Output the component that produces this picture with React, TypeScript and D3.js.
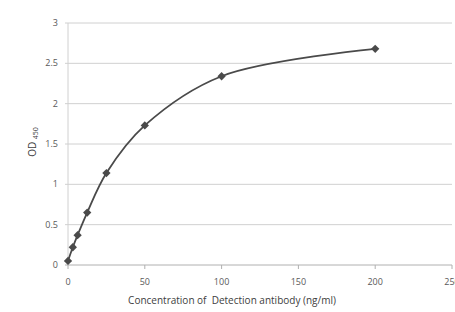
import React, { useEffect, useRef } from 'react';
import * as d3 from 'd3';

const concentrations = [0, 3.125, 6.25, 12.5, 25, 50, 100, 200];
const odValues = [0.05, 0.22, 0.37, 0.65, 1.14, 1.73, 2.34, 2.68];
const xTicks = [0, 50, 100, 150, 200, 250];
const yTicks = [0, 0.5, 1, 1.5, 2, 2.5, 3];

const WIDTH = 455;
const HEIGHT = 312;
const FONT = '"Open Sans", "Liberation Sans", sans-serif';

export default function App() {
  const svgRef = useRef<SVGSVGElement>(null);

  useEffect(() => {
    if (!svgRef.current) return;
    const svg = d3.select(svgRef.current);
    svg.selectAll('*').remove();

    const margin = { top: 23, right: 3, bottom: 47, left: 68 };
    const innerWidth = WIDTH - margin.left - margin.right;
    const innerHeight = HEIGHT - margin.top - margin.bottom;

    svg.append('rect').attr('width', WIDTH).attr('height', HEIGHT).attr('fill', '#fff');

    const g = svg
      .append('g')
      .attr('transform', `translate(${margin.left},${margin.top})`);

    const x = d3.scaleLinear().domain([0, 250]).range([0, innerWidth]);
    const y = d3.scaleLinear().domain([0, 3]).range([innerHeight, 0]);

    // horizontal gridlines
    g.append('g')
      .selectAll('line')
      .data(yTicks.filter((t) => t > 0))
      .join('line')
      .attr('x1', -3)
      .attr('x2', innerWidth)
      .attr('y1', (d) => y(d))
      .attr('y2', (d) => y(d))
      .attr('stroke', '#d0d0d0')
      .attr('stroke-width', 1);

    // y axis line
    g.append('line')
      .attr('x1', 0)
      .attr('x2', 0)
      .attr('y1', 0)
      .attr('y2', innerHeight)
      .attr('stroke', '#d0d0d0');

    // x axis line
    g.append('line')
      .attr('x1', -3)
      .attr('x2', innerWidth)
      .attr('y1', innerHeight)
      .attr('y2', innerHeight)
      .attr('stroke', '#b0b0b0');

    g.append('g')
      .selectAll('line')
      .data(xTicks)
      .join('line')
      .attr('x1', (d) => x(d))
      .attr('x2', (d) => x(d))
      .attr('y1', innerHeight)
      .attr('y2', innerHeight + 4)
      .attr('stroke', '#b0b0b0');

    g.append('g')
      .selectAll('text')
      .data(yTicks)
      .join('text')
      .attr('x', -10)
      .attr('y', (d) => y(d))
      .attr('dy', '0.35em')
      .attr('text-anchor', 'end')
      .attr('fill', '#595959')
      .attr('font-size', '9px')
      .attr('font-family', FONT)
      .text((d) => String(d));

    g.append('g')
      .selectAll('text')
      .data(xTicks)
      .join('text')
      .attr('x', (d) => x(d))
      .attr('y', innerHeight + 20)
      .attr('text-anchor', 'middle')
      .attr('fill', '#595959')
      .attr('font-size', '9px')
      .attr('font-family', FONT)
      .text((d) => String(d));

    g.append('text')
      .attr('x', 164)
      .attr('y', innerHeight + 39)
      .attr('text-anchor', 'middle')
      .attr('fill', '#404040')
      .attr('font-size', '10px')
      .attr('font-family', FONT)
      .style('white-space', 'pre')
      .text('Concentration of  Detection antibody (ng/ml)');

    const yLabel = g
      .append('text')
      .attr('transform', `translate(-32,${innerHeight / 2 - 2}) rotate(-90)`)
      .attr('text-anchor', 'middle')
      .attr('fill', '#404040')
      .attr('font-size', '10px')
      .attr('font-family', FONT);
    yLabel.append('tspan').text('OD ');
    yLabel.append('tspan').attr('font-size', '7px').attr('dy', '2').text('450');

    const data: [number, number][] = concentrations.map((c, i) => [c, odValues[i]]);

    const line = d3
      .line<[number, number]>()
      .x((d) => x(d[0]))
      .y((d) => y(d[1]))
      .curve(d3.curveCatmullRom.alpha(0.5));

    g.append('path')
      .attr('d', line(data))
      .attr('fill', 'none')
      .attr('stroke', '#4a4a4a')
      .attr('stroke-width', 1.8);

    const diamond = d3.symbol().type(d3.symbolDiamond2).size(44);
    g.append('g')
      .selectAll('path')
      .data(data)
      .join('path')
      .attr('transform', (d) => `translate(${x(d[0])},${y(d[1])})`)
      .attr('d', diamond)
      .attr('fill', '#4a4a4a');
  }, []);

  return (
    <div style={{ position: 'absolute', left: 0, top: 0 }}>
      <svg ref={svgRef} width={WIDTH} height={HEIGHT} style={{ display: 'block' }} />
    </div>
  );
}
